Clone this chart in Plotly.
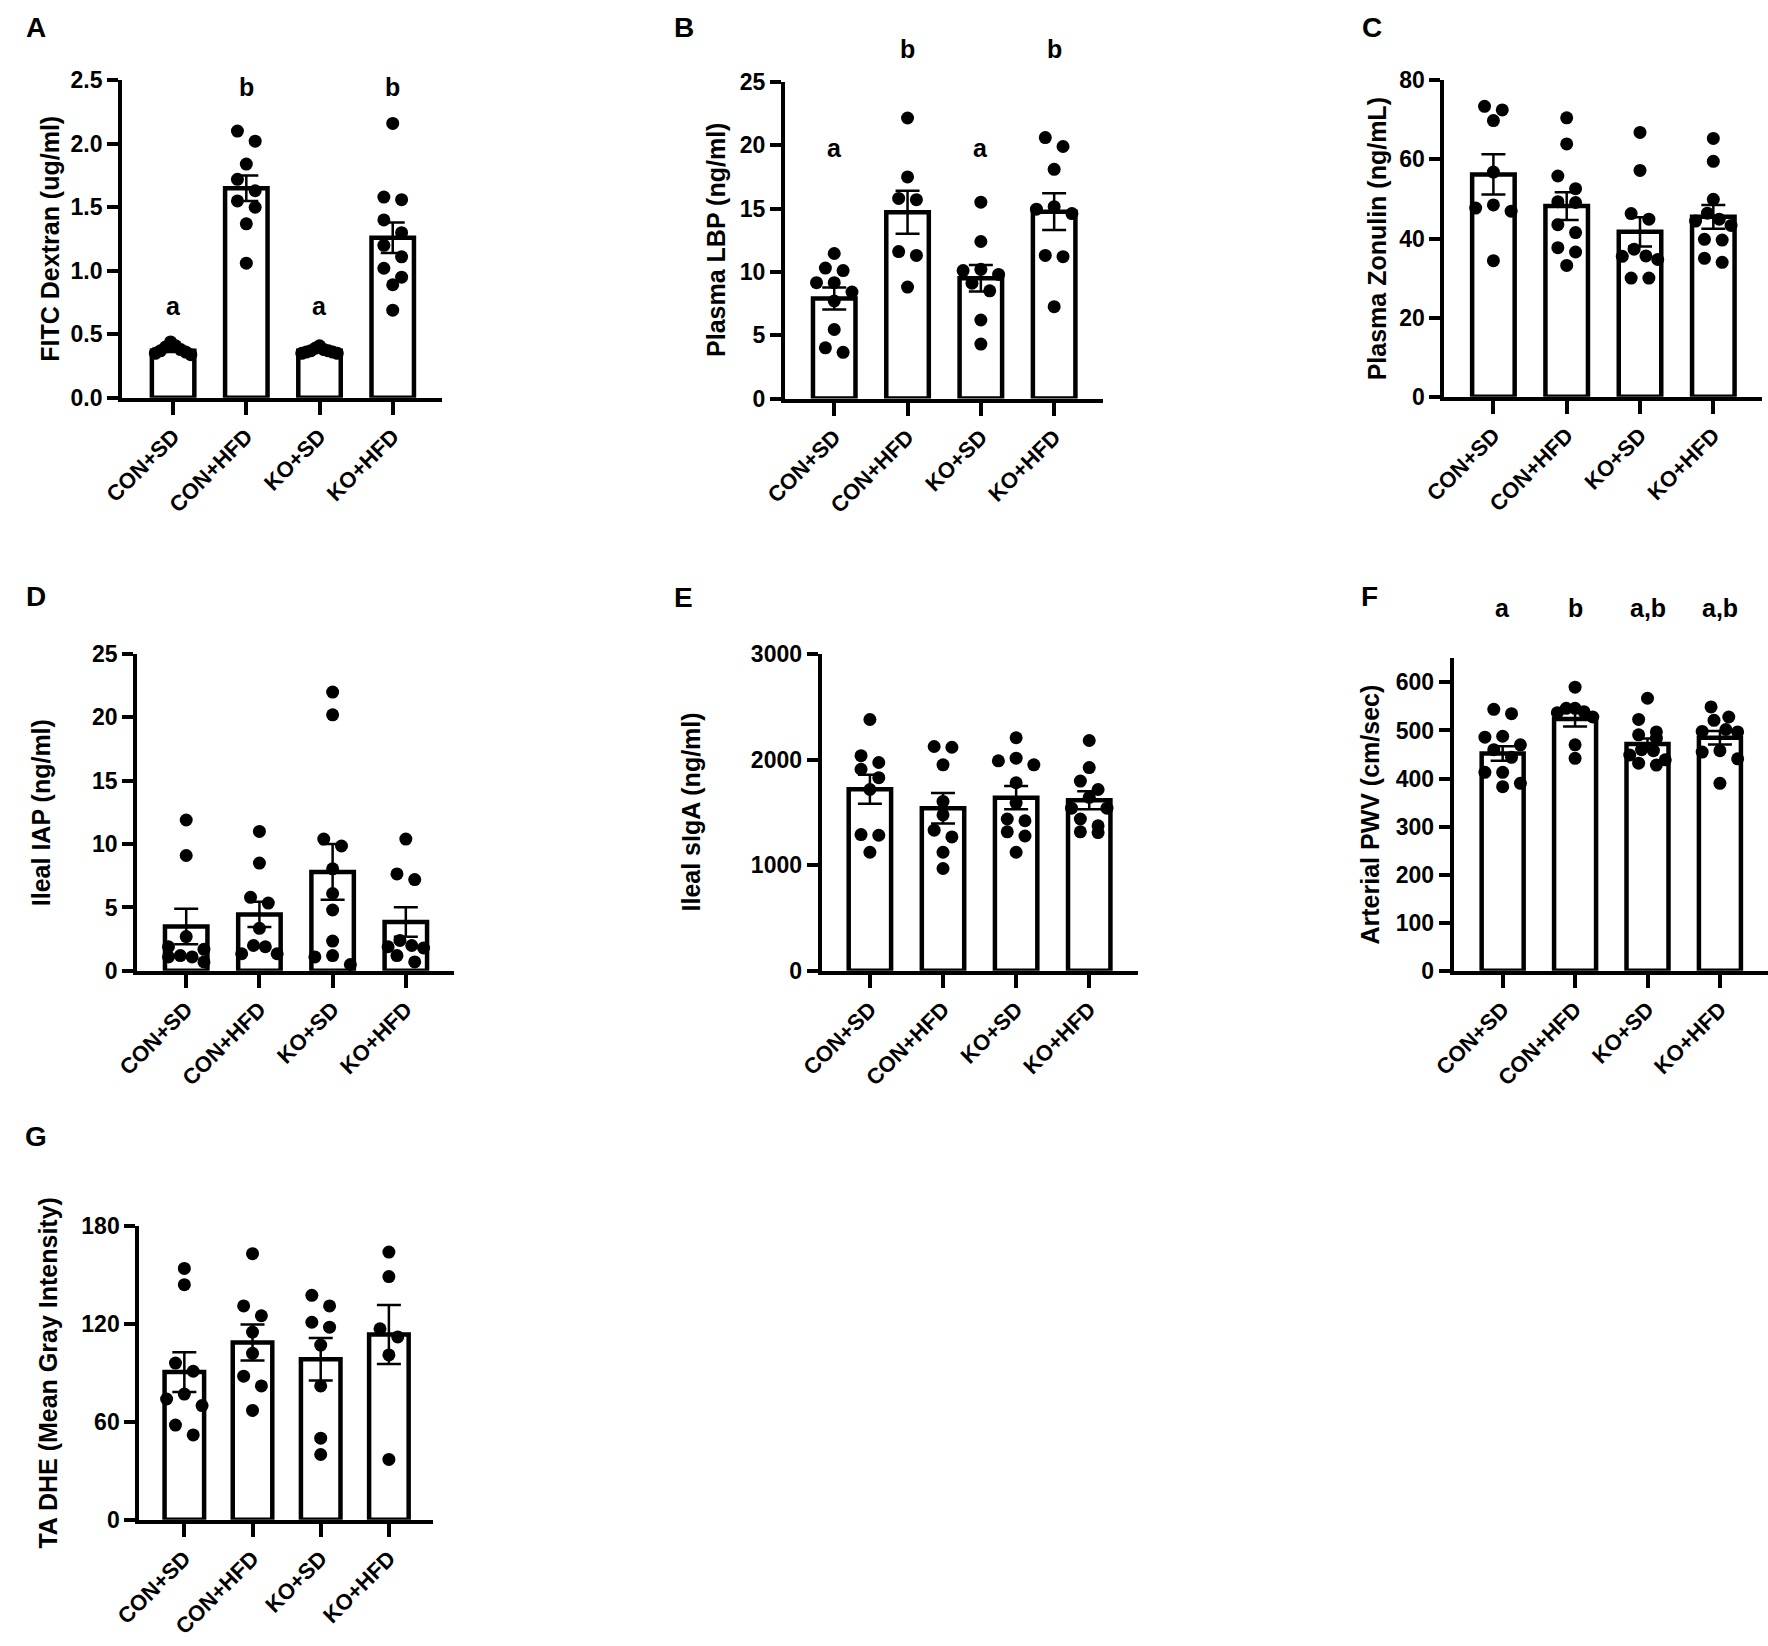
import plotly.graph_objects as go

# groups on every panel
groups = ["CON+SD", "CON+HFD", "KO+SD", "KO+HFD"]

# A - FITC Dextran (ug/ml)
fitc_points = [
    [0.44, 0.41, 0.40, 0.38, 0.37, 0.36, 0.35, 0.34],
    [2.10, 2.02, 1.84, 1.72, 1.63, 1.55, 1.50, 1.37, 1.06],
    [0.41, 0.39, 0.38, 0.37, 0.37, 0.36, 0.36, 0.35, 0.35],
    [2.16, 1.58, 1.56, 1.40, 1.30, 1.20, 1.11, 1.02, 0.95, 0.89, 0.69],
]
fitc_mean = [0.37, 1.65, 0.37, 1.26]
fitc_sem = [0.01, 0.10, 0.01, 0.12]
fitc_ticks = [0, 0.5, 1.0, 1.5, 2.0, 2.5]
fitc_letters = ["a", "b", "a", "b"]

# B - Plasma LBP (ng/ml)
lbp_points = [
    [11.45, 10.3, 10.1, 9.15, 9.15, 8.4, 7.7, 5.45, 4.0, 3.65],
    [22.15, 17.5, 15.8, 15.7, 11.6, 11.3, 8.8],
    [15.5, 12.4, 10.2, 10.1, 9.8, 9.1, 8.5, 6.2, 4.3],
    [20.6, 19.9, 18.1, 15.15, 14.95, 14.6, 11.3, 11.2, 7.25],
]
lbp_mean = [7.9, 14.7, 9.5, 14.75]
lbp_sem = [0.87, 1.7, 1.05, 1.45]
lbp_ticks = [0, 5, 10, 15, 20, 25]
lbp_letters = ["a", "b", "a", "b"]

# C - Plasma Zonulin (ng/mL)
zonulin_points = [
    [73.4, 72.5, 69.8, 56.8, 48.5, 47.7, 46.9, 34.4],
    [70.5, 63.9, 55.8, 52.6, 49.3, 49.1, 43.5, 41.5, 37.7, 36.6, 33.2],
    [66.8, 57.2, 46.3, 44.9, 37.3, 35.6, 35.5, 34.7, 30.0, 30.0],
    [65.3, 59.5, 49.9, 46.4, 44.9, 44.4, 43.3, 39.8, 39.6, 35.0, 34.0],
]
zonulin_mean = [56.2, 48.2, 41.7, 45.5]
zonulin_sem = [5.1, 3.5, 3.7, 3.0]
zonulin_ticks = [0, 20, 40, 60, 80]

# D - Ileal IAP (ng/ml)
iap_points = [
    [11.9, 9.1, 2.7, 1.9, 1.7, 1.2, 1.1, 1.1, 0.7],
    [11.0, 8.5, 5.8, 5.35, 3.35, 2.0, 1.9, 1.35, 1.35],
    [22.0, 20.2, 10.4, 9.85, 8.05, 6.1, 4.8, 2.35, 1.2, 1.1, 0.5],
    [10.4, 7.65, 7.2, 2.4, 2.0, 1.9, 1.8, 1.2, 0.7],
]
iap_mean = [3.5, 4.45, 7.8, 3.85]
iap_sem = [1.4, 1.0, 2.2, 1.17]
iap_ticks = [0, 5, 10, 15, 20, 25]

# E - Ileal sIgA (ng/ml)
siga_points = [
    [2380, 2037, 1973, 1909, 1829, 1717, 1290, 1284, 1123],
    [2124, 2117, 1951, 1604, 1476, 1332, 1268, 1123, 969],
    [2207, 2014, 1989, 1951, 1781, 1588, 1438, 1421, 1316, 1277, 1123],
    [2181, 1925, 1797, 1717, 1643, 1540, 1540, 1438, 1373, 1316, 1309],
]
siga_mean = [1720, 1540, 1640, 1615]
siga_sem = [137, 145, 110, 85]
siga_ticks = [0, 1000, 2000, 3000]

# F - Arterial PWV (cm/sec)
pwv_points = [
    [544, 535, 488, 486, 470, 460, 444, 413, 413, 390, 383],
    [590, 546, 546, 539, 537, 528, 470, 442],
    [567, 523, 497, 491, 484, 460, 458, 449, 439, 432, 428],
    [549, 528, 521, 502, 498, 497, 458, 455, 441, 390],
]
pwv_mean = [452, 524, 472, 485]
pwv_sem = [15, 16, 11, 14]
pwv_ticks = [0, 100, 200, 300, 400, 500, 600]
pwv_letters = ["a", "b", "a,b", "a,b"]

# G - TA DHE (Mean Gray Intensity)
dhe_points = [
    [154, 144, 96, 91, 77, 74, 70, 58, 52],
    [163, 131, 125, 115, 102, 88, 82, 67],
    [137.5, 131, 121, 118, 107, 82, 50, 40],
    [164, 149, 117, 112, 101, 37],
]
dhe_mean = [90.5, 108.6, 98.3, 113.5]
dhe_sem = [12.2, 11.0, 13.0, 18.0]
dhe_ticks = [0, 60, 120, 180]

W, H = 1768, 1646
FONT = "Liberation Sans, Arial, sans-serif"

# panel geometry in pixels: y axis x, x axis right end, top / bottom of y axis,
# first bar centre and bar spacing
panels = [
    dict(tag="A", pts=fitc_points, mean=fitc_mean, sem=fitc_sem, ticks=fitc_ticks, ymax=2.5,
         fmt=".1f", title="FITC Dextran (ug/ml)", x0=97.5, x1=422, yt=68.3, yb=391,
         c0=149.3, sp=74.3, tx=24, lx=10, ly=15,
         letters=fitc_letters, let_y=[0.72, 2.45, 0.72, 2.45]),
    dict(tag="B", pts=lbp_points, mean=lbp_mean, sem=lbp_sem, ticks=lbp_ticks, ymax=25,
         fmt="", title="Plasma LBP (ng/ml)", x0=770.2, x1=1092.8, yt=70, yb=391.7,
         c0=820.3, sp=74.4, tx=700, lx=668, ly=15,
         letters=lbp_letters, let_y=[19.8, 27.6, 19.8, 27.6]),
    dict(tag="C", pts=zonulin_points, mean=zonulin_mean, sem=zonulin_sem, ticks=zonulin_ticks,
         ymax=80, fmt="", title="Plasma Zonulin (ng/mL)", x0=1439.5, x1=1762, yt=68.3, yb=390,
         c0=1489.3, sp=74.4, tx=1371, lx=1366, ly=15),
    dict(tag="D", pts=iap_points, mean=iap_mean, sem=iap_sem, ticks=iap_ticks, ymax=25,
         fmt="", title="Ileal IAP (ng/ml)", x0=112.9, x1=434.4, yt=651.3, yb=973.2,
         c0=162.6, sp=74.3, tx=16, lx=10, ly=593),
    dict(tag="E", pts=siga_points, mean=siga_mean, sem=siga_sem, ticks=siga_ticks, ymax=3000,
         fmt="", title="Ileal sIgA (ng/ml)", x0=807.5, x1=1128.2, yt=651.3, yb=973.2,
         c0=856.5, sp=74.2, tx=675, lx=667, ly=594),
    dict(tag="F", pts=pwv_points, mean=pwv_mean, sem=pwv_sem, ticks=pwv_ticks, ymax=650,
         fmt="", title="Arterial PWV (cm/sec)", x0=1449, x1=1768, yt=655.7, yb=973.2,
         c0=1498.7, sp=73.5, tx=1364, lx=1364, ly=593,
         letters=pwv_letters, let_y=[754, 754, 754, 754]),
    dict(tag="G", pts=dhe_points, mean=dhe_mean, sem=dhe_sem, ticks=dhe_ticks, ymax=180,
         fmt="", title="TA DHE (Mean Gray Intensity)", x0=115, x1=413.3, yt=1232.4, yb=1531,
         c0=160.7, sp=69.2, tx=22, lx=10, ly=1142),
]


def swarm(vals, ppu, dmin=13.0, step=18.0, span=36.0):
    # GraphPad-like rows: points closer than one dot diameter share a row
    order = sorted(range(len(vals)), key=lambda i: -vals[i])
    offs = [0.0] * len(vals)
    rows = []
    for i in order:
        if rows and (vals[rows[-1][0]] - vals[i]) * ppu < dmin:
            rows[-1].append(i)
        else:
            rows.append([i])
    for row in rows:
        n = len(row)
        if n == 1:
            continue
        s = min(step, span / (n - 1))
        # alternate left / right so dense rows stay clustered round the centre
        slots = sorted(range(n), key=lambda k: abs(k - (n - 1) / 2))
        for k, i in zip(slots, row):
            offs[i] = (k - (n - 1) / 2) * s
    return offs


fig = go.Figure()
annotations = []
layout = {}

for n, p in enumerate(panels, start=1):
    xa = "x" if n == 1 else "x%d" % n
    ya = "y" if n == 1 else "y%d" % n
    ppu = (p["yb"] - p["yt"]) / p["ymax"]

    fig.add_trace(go.Bar(
        x=list(range(4)), y=p["mean"], width=0.58, xaxis=xa, yaxis=ya,
        marker=dict(color="white", line=dict(color="black", width=4.5)),
        showlegend=False, hoverinfo="skip"))

    for g, vals in enumerate(p["pts"]):
        offs = swarm(vals, ppu)
        fig.add_trace(go.Scatter(
            x=[g + o / p["sp"] for o in offs], y=vals, mode="markers",
            xaxis=xa, yaxis=ya, cliponaxis=False,
            marker=dict(size=13, color="black"), showlegend=False))

    fig.add_trace(go.Scatter(
        x=list(range(4)), y=p["mean"], mode="markers", xaxis=xa, yaxis=ya,
        marker=dict(size=1, color="rgba(0,0,0,0)"),
        error_y=dict(type="data", array=p["sem"], visible=True, color="black",
                     thickness=2.5, width=12),
        showlegend=False, hoverinfo="skip"))

    lo = (p["x0"] - p["c0"]) / p["sp"]
    hi = (p["x1"] - p["c0"]) / p["sp"]
    layout["xaxis" if n == 1 else "xaxis%d" % n] = dict(
        domain=[p["x0"] / W, min(p["x1"] / W, 1.0)], anchor=ya, range=[lo, hi],
        tickmode="array", tickvals=list(range(4)), ticktext=groups, tickangle=-45,
        showline=True, linecolor="black", linewidth=4, ticks="outside",
        ticklen=13, tickwidth=4, tickcolor="black", showgrid=False, zeroline=False,
        tickfont=dict(size=22, family=FONT, color="black", weight="bold"))
    layout["yaxis" if n == 1 else "yaxis%d" % n] = dict(
        domain=[1 - p["yb"] / H, 1 - p["yt"] / H], anchor=xa, range=[0, p["ymax"]],
        tickmode="array", tickvals=p["ticks"], tickformat=p["fmt"],
        showline=True, linecolor="black", linewidth=4, ticks="outside",
        ticklen=11, tickwidth=4, tickcolor="black", showgrid=False, zeroline=False,
        tickfont=dict(size=23, family=FONT, color="black", weight="bold"))

    annotations.append(dict(
        text=p["title"], xref="paper", yref="paper", x=p["tx"] / W,
        y=1 - (p["yt"] + p["yb"]) / 2 / H, textangle=-90, showarrow=False,
        xanchor="center", yanchor="middle",
        font=dict(size=25, family=FONT, color="black", weight="bold")))
    annotations.append(dict(
        text=p["tag"], xref="paper", yref="paper", x=p["lx"] / W, y=1 - p["ly"] / H,
        showarrow=False, xanchor="center", yanchor="middle",
        font=dict(size=28, family=FONT, color="black", weight="bold")))
    if "letters" in p:
        for g, (t, ly) in enumerate(zip(p["letters"], p["let_y"])):
            # domain reference so letters above the axis top are not hidden
            annotations.append(dict(
                text=t, xref=xa, yref=ya + " domain", x=g, y=ly / p["ymax"],
                showarrow=False, xanchor="center", yanchor="middle",
                font=dict(size=25, family=FONT, color="black", weight="bold")))

fig.update_layout(
    width=W, height=H, margin=dict(l=0, r=0, t=0, b=0),
    paper_bgcolor="white", plot_bgcolor="white", showlegend=False,
    font=dict(family=FONT, color="black", weight="bold"),
    annotations=annotations, **layout)

fig.write_html("out.html", config={"displayModeBar": False},
               post_script="document.body.style.margin='0px';")
